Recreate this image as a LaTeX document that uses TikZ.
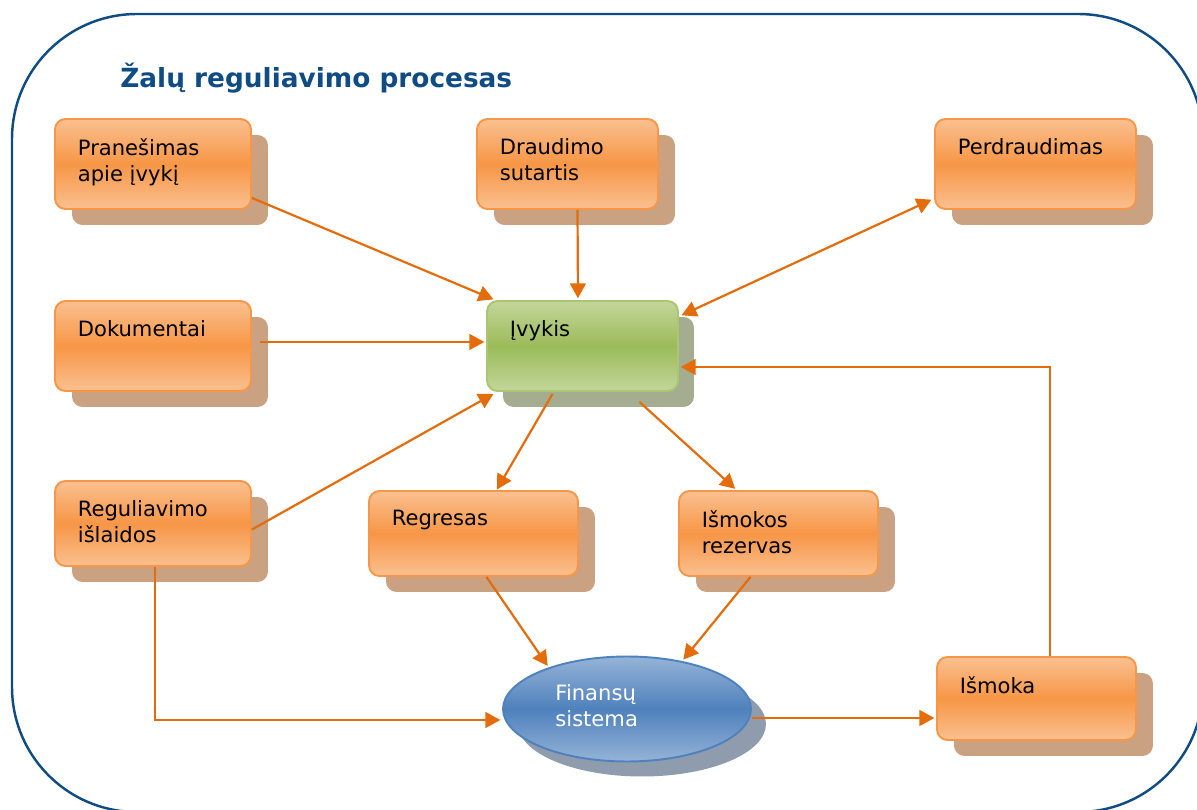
\documentclass[tikz,border=0pt]{standalone}
\usepackage{fontspec}
\setmainfont{DejaVu Sans}
\usetikzlibrary{
    positioning,
    arrows.meta,
    shapes.geometric,
    shadows
}
\definecolor{FrameBlue}{RGB}{16,76,132}
\definecolor{ArrowOrange}{RGB}{228,108,10}
\definecolor{OrangeLight}{RGB}{250,192,144}
\definecolor{OrangeMid}{RGB}{247,150,70}
\definecolor{OrangeEdge}{RGB}{247,150,70}
\definecolor{OrangeShadow}{RGB}{202,162,130}
\definecolor{GreenLight}{RGB}{195,214,155}
\definecolor{GreenMid}{RGB}{155,187,89}
\definecolor{GreenEdge}{RGB}{168,199,110}
\definecolor{GreenShadow}{RGB}{165,173,145}
\definecolor{BlueLight}{RGB}{149,179,215}
\definecolor{BlueMid}{RGB}{79,129,189}
\definecolor{BlueShadow}{RGB}{142,156,173}

\begin{document}
\begin{tikzpicture}[
    x=0.02cm, y=-0.02cm,
    font=\fontsize{12}{14.8}\selectfont,
    every node/.style={inner sep=0pt},
    >={Triangle[length=8.5pt, width=9pt]},
    box/.style={rectangle, rounded corners=6pt, line width=1.1pt},
    obox/.style={box, draw=OrangeEdge, top color=OrangeLight, bottom color=OrangeLight,
        middle color=OrangeMid,
        drop shadow={shadow xshift=0.34cm, shadow yshift=-0.32cm, fill=OrangeShadow, opacity=1}},
    gbox/.style={box, draw=GreenEdge, top color=GreenLight, bottom color=GreenLight,
        middle color=GreenMid,
        drop shadow={shadow xshift=0.32cm, shadow yshift=-0.32cm, fill=GreenShadow, opacity=1}},
    ebox/.style={ellipse, draw=BlueMid, line width=1.1pt, top color=BlueLight, bottom color=BlueLight,
        middle color=BlueMid,
        drop shadow={shadow xshift=0.3cm, shadow yshift=-0.3cm, fill=BlueShadow, opacity=1}},
    txt/.style={label={[anchor=north west, align=left, xshift=0.47cm, yshift=-0.4cm]north west:#1}},
    arr/.style={draw=ArrowOrange, line width=1.25pt, shorten >=1pt},
  ]
  \useasboundingbox (0,0) rectangle (1197,810);

  % Frame and title
  \draw[FrameBlue, line width=1.4pt, rounded corners=2.5cm] (12,14) rectangle (1203,812);
  \node[anchor=base west, font=\fontsize{15}{18}\selectfont\bfseries, text=FrameBlue] (title)
    at (120,88) {Žalų reguliavimo procesas};

  % Top row
  \node[obox, minimum width=3.92cm, minimum height=1.8cm, txt={Pranešimas\\apie įvykį}] (pran) at (153,164) {};
  \node[obox, minimum width=3.62cm, minimum height=1.8cm, txt={Draudimo\\sutartis}] (draud) at (567.5,164) {};
  \node[obox, minimum width=4.02cm, minimum height=1.8cm, txt={Perdraudimas}] (perd) at (1035.5,164) {};

  % Middle row
  \node[obox, minimum width=3.92cm, minimum height=1.8cm, txt={Dokumentai}] (dok) at (153,346) {};
  \node[gbox, minimum width=3.82cm, minimum height=1.8cm, txt={Įvykis}] (ivyk) at (582.5,346) {};

  % Lower row
  \node[obox, minimum width=3.92cm, minimum height=1.7cm, txt={Reguliavimo\\išlaidos}] (regis) at (153,523.5) {};
  \node[obox, minimum width=4.18cm, minimum height=1.7cm, txt={Regresas}] (regr) at (473.5,533.5) {};
  \node[obox, minimum width=3.98cm, minimum height=1.7cm, txt={Išmokos\\rezervas}] (rez) at (778.5,533.5) {};

  % Bottom row
  \node[ebox, minimum width=4.96cm, minimum height=2.1cm,
    label={[anchor=west, align=left, text=white, xshift=1.06cm, yshift=0.06cm]west:Finansų\\sistema}] (fin) at (627,709) {};
  \node[obox, minimum width=3.98cm, minimum height=1.66cm, txt={Išmoka}] (ismok) at (1036.5,698.5) {};

  % Connectors into the event
  \draw[arr, ->] ([shift={(0,-12)}]pran.south east) -- ([shift={(9,0)}]ivyk.north west);
  \draw[arr, ->] ([shift={(10,0)}]draud.south) -- ([shift={(-4.5,0)}]ivyk.north);
  \draw[arr, <->, shorten <=1pt] ([shift={(1,16)}]ivyk.north east) -- ([shift={(-1,-11)}]perd.south west);
  \draw[arr, ->] ([shift={(8,-4)}]dok.east) -- ([shift={(0,-4)}]ivyk.west);
  \draw[arr, ->] ([shift={(0,6)}]regis.east) -- ([shift={(9,1)}]ivyk.south west);

  % Connectors out of the event
  \draw[arr, ->] ([shift={(-30,2)}]ivyk.south) -- ([shift={(22.5,1)}]regr.north);
  \draw[arr, ->] ([shift={(57,10)}]ivyk.south) -- ([shift={(-42,0)}]rez.north);

  % Into the financial system
  \draw[arr, ->] ([shift={(13,0)}]regr.south) -- (fin.152);
  \draw[arr, ->] ([shift={(-28,0)}]rez.south) -- (fin.41);
  \draw[arr, ->] ([shift={(2,0)}]regis.south) |- ([shift={(0,11)}]fin.west);

  % Payment loop
  \coordinate (fout) at ([shift={(0,9)}]fin.east);
  \draw[arr, ->] (fout) -- (fout -| ismok.west);
  \draw[arr, ->] ([shift={(13.5,0)}]ismok.north) |- ([shift={(0,21)}]ivyk.east);
\end{tikzpicture}
\end{document}
